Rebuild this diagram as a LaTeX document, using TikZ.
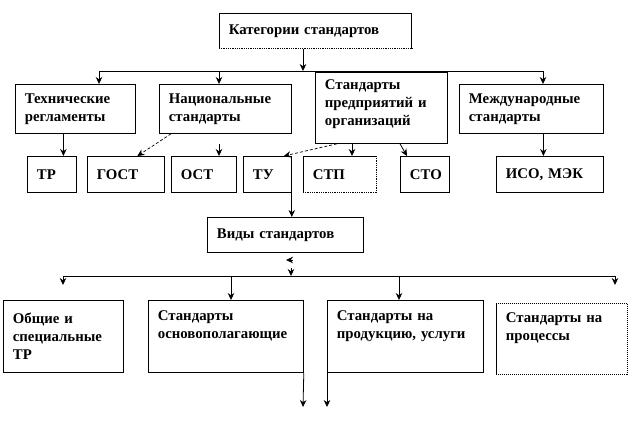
\documentclass[tikz,border=0pt]{standalone}
\usepackage{fontspec}
\setmainfont{Liberation Serif}
\usetikzlibrary{arrows.meta}

\begin{document}
\begin{tikzpicture}[
x = 1pt, y = -1pt,
line width = 0.8pt,
>={Stealth[length=7pt, width=6.5pt]},
catbox/.style={rectangle, anchor = north west, align = left, draw,
inner xsep = 9.5pt, inner ysep = 0pt, font = \bfseries\fontsize{14.8}{18}\selectfont},
openbox/.style={catbox, draw = none},
arr/.style={->},
diagarr/.style={->, densely dashed, line width = 0.7pt}]

\useasboundingbox (0,0) rectangle (629,444);

% categories
\node[openbox, text width = 173pt, minimum height = 35pt] (cat) at (219,13) {Категории стандартов};
\draw (cat.south west) -- (cat.north west) -- (cat.north east) -- (cat.south east);
\draw[densely dotted] (cat.south west) -- (cat.south east);

\node[catbox, text width = 101pt, minimum height = 49pt] (tech) at (15,84) {Технические\\регламенты};
\node[catbox, text width = 113pt, minimum height = 49pt] (nat) at (159,84) {Национальные\\стандарты};
\node[catbox, text width = 113pt, minimum height = 71pt, text depth = 47pt] (ent) at (315,72) {Стандарты\\предприятий и\\организаций};
\node[catbox, text width = 125pt, minimum height = 49pt] (intl) at (459,84) {Международные\\стандарты};

\node[catbox, text width = 30pt, minimum height = 36pt] (tr) at (27,156) {ТР};
\node[catbox, text width = 58pt, minimum height = 36pt] (gost) at (87,156) {ГОСТ};
\node[catbox, text width = 46pt, minimum height = 36pt] (ost) at (171,156) {ОСТ};
\node[catbox, text width = 29pt, minimum height = 36pt] (tu) at (243,156) {ТУ};
\node[openbox, text width = 54pt, minimum height = 36pt] (stp) at (303,156) {СТП};
\draw (stp.south west) -- (stp.north west) -- (stp.north east);
\draw[densely dotted] (stp.north east) -- (stp.south east) -- (stp.south west);
\node[catbox, text width = 30pt, minimum height = 36pt] (sto) at (400,156) {СТО};
\node[catbox, text width = 88pt, minimum height = 36pt] (iso) at (496,156) {ИСО, МЭК};

% kinds
\node[catbox, text width = 137pt, minimum height = 35pt] (vid) at (207,217) {Виды стандартов};

\node[catbox, text width = 101pt, minimum height = 72pt] (gen) at (3,300) {Общие и\\специальные\\ТР};
\node[catbox, text width = 136pt, minimum height = 72pt, text depth = 42pt] (osn) at (148,300) {Стандарты\\основополагающие};
\node[catbox, text width = 137pt, minimum height = 72pt, text depth = 42pt] (prod) at (327,300) {Стандарты на\\продукцию, услуги};
\node[openbox, text width = 112pt, minimum height = 71pt, text depth = 43pt] (proc) at (496,303) {Стандарты на\\процессы};
\draw (proc.north west) -- (proc.south west);
\draw[densely dotted, line width = 1pt] (proc.south west) -- (proc.south east) -- (proc.north east) -- (proc.north west);

% upper connectors
\coordinate (bus1L) at (99,71);
\coordinate (bus1R) at (543,71);
\coordinate (bus1C) at (303,71);
\coordinate (natDrop) at (219,71);
\draw[arr] (bus1C |- cat.south) -- (bus1C);
\draw (bus1L) -- (bus1R);
\draw[arr] (bus1L) -- (bus1L |- tech.north);
\draw[arr] (natDrop) -- (natDrop |- nat.north);
\draw[arr] (bus1R) -- (bus1R |- intl.north);

\draw[arr] ([xshift=-12pt]tech.south) -- ([xshift=-12pt]tech.south |- tr.north);
\draw[diagarr] ([xshift=12pt]nat.south west) -- ([xshift=11.5pt]gost.north);
\coordinate (ostTop) at (219,144);
\draw[arr] (ostTop) -- (ostTop |- ost.north);
\draw[diagarr] ([xshift=22pt]ent.south west) -- ([xshift=-8pt]tu.north east);
\draw[arr] ([xshift=37pt]ent.south west) -- ([xshift=37pt]ent.south west |- stp.north);
\draw[arr] ([xshift=85pt]ent.south west) -- ([xshift=7pt]sto.north west);
\draw[arr] ([xshift=12pt]intl.south) -- ([xshift=12pt]intl.south |- iso.north);

% lower connectors
\draw[arr] (tu.south east) -- (tu.south east |- vid.north);
\coordinate (vidMark) at (286,260);
\draw[arr] ([xshift=7pt]vidMark) -- (vidMark);
\coordinate (bus2C) at (291,276);
\draw[arr] ([yshift=8pt]bus2C) -- (bus2C);

\coordinate (bus2L) at (63,276);
\coordinate (bus2R) at (615,276);
\coordinate (osnDrop) at (231,276);
\coordinate (prodDrop) at (399,276);
\coordinate (endL) at (63,285);
\coordinate (endR) at (615,285);
\draw (bus2L) -- (bus2R);
\draw[arr] (bus2L) -- (endL);
\draw[arr] (bus2R) -- (endR);
\draw[arr] (osnDrop) -- (osnDrop |- osn.north);
\draw[arr] (prodDrop) -- (prodDrop |- prod.north);

\coordinate (endA) at (303,407);
\coordinate (endB) at (327,407);
\draw[arr] (osn.south east) -- (endA);
\draw[arr] (prod.south west) -- (endB);
\end{tikzpicture}
\end{document}
